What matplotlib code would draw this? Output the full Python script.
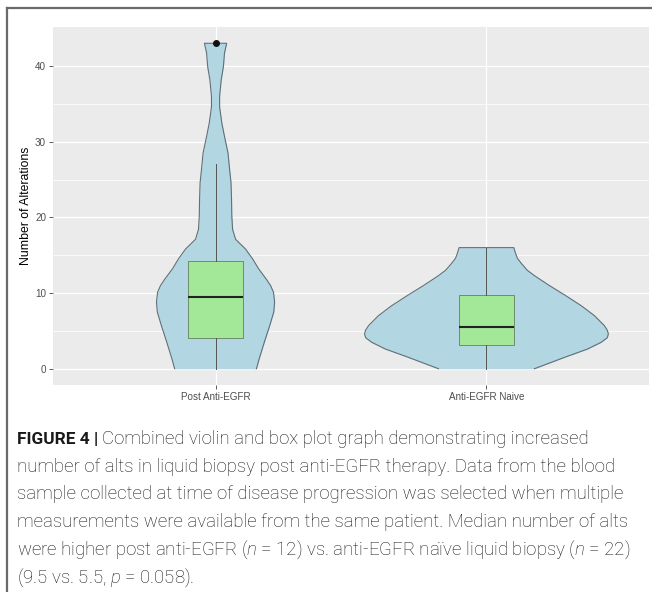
import numpy as np
import matplotlib
matplotlib.use("Agg")
import matplotlib.pyplot as plt
from matplotlib.lines import Line2D

groups = ["Post Anti-EGFR", "Anti-EGFR Naive"]

# violin outlines: height (number of alterations) and half-width (x units)
post_y = [0.0, 1.3, 3.5, 5.7, 7.5, 8.8, 10.1, 11.0, 11.8, 13.2, 14.5, 15.8,
          17.1, 18.4, 20.2, 22.4, 24.6, 26.3, 28.5, 30.7, 32.5, 34.6, 36.0,
          38.2, 39.9, 41.7, 43.0]
post_hw = [0.151, 0.161, 0.180, 0.200, 0.215, 0.218, 0.214, 0.203, 0.188,
           0.159, 0.137, 0.111, 0.074, 0.063, 0.060, 0.059, 0.057, 0.052,
           0.046, 0.033, 0.023, 0.015, 0.015, 0.021, 0.029, 0.033, 0.041]

naive_y = [0.0, 0.7, 1.5, 2.6, 3.5, 4.1, 4.6, 5.1, 5.7, 7.0, 8.3, 9.6, 11.0,
           12.3, 13.0, 13.9, 14.6, 15.3, 16.0]
naive_hw = [0.177, 0.229, 0.288, 0.373, 0.424, 0.446, 0.450, 0.446, 0.435,
            0.399, 0.351, 0.295, 0.232, 0.177, 0.151, 0.129, 0.114, 0.107,
            0.101]

# box plot summaries per group
box_q1 = [4.0, 3.2]
box_med = [9.5, 5.5]
box_q3 = [14.2, 9.7]
whisk_lo = [0, 0]
whisk_hi = [27, 16]
outliers = [[43], []]

violin_fill = "#b3d6e3"
violin_edge = "#5f7077"
box_fill = "#a3e898"

fig = plt.figure(figsize=(6.52, 5.92), dpi=100)
W, H = 652, 592
ax = fig.add_axes([53 / W, 1 - 385 / H, (649 - 53) / W, (385 - 27) / H])

ax.set_facecolor("#ebebeb")
for s in ax.spines.values():
    s.set_visible(False)

for i, (ys, hws) in enumerate([(post_y, post_hw), (naive_y, naive_hw)]):
    x0 = i + 1
    ys = np.array(ys)
    hws = np.array(hws)
    ax.fill_betweenx(ys, x0 - hws, x0 + hws, color=violin_fill, lw=0, zorder=2)
    xs = np.concatenate([x0 - hws, (x0 + hws)[::-1]])
    yy = np.concatenate([ys, ys[::-1]])
    ax.plot(xs, yy, color=violin_edge, lw=0.8, zorder=3)

stats = []
for i in range(len(groups)):
    stats.append(dict(med=box_med[i], q1=box_q1[i], q3=box_q3[i],
                      whislo=whisk_lo[i], whishi=whisk_hi[i],
                      fliers=outliers[i]))

ax.bxp(stats, positions=[1, 2], widths=0.2, patch_artist=True,
       showcaps=False,
       boxprops=dict(facecolor=box_fill, edgecolor="#6f8d6a", linewidth=0.7),
       medianprops=dict(color="#222222", linewidth=1.5),
       whiskerprops=dict(color="#555555", linewidth=0.7),
       flierprops=dict(marker="o", markerfacecolor="#111111",
                       markeredgecolor="#111111", markersize=4),
       zorder=4)

ax.set_xlim(0.4, 2.6)
ax.set_ylim(-2.15, 45.15)
ax.set_xticks([1, 2])
ax.set_xticklabels(groups)
ax.set_yticks([0, 10, 20, 30, 40])
ax.set_yticks([5, 15, 25, 35], minor=True)
ax.grid(which="major", color="white", lw=0.9)
ax.grid(which="minor", axis="y", color="white", lw=0.5)
ax.set_axisbelow(True)
ax.tick_params(which="major", length=3, width=0.6, color="#444444",
               labelcolor="#4d4d4d", labelsize=7.1, pad=2)
ax.tick_params(which="minor", length=0)
for lab in ax.get_xticklabels() + ax.get_yticklabels():
    lab.set_family("Liberation Sans")

ax.set_ylabel("Number of Alterations", fontsize=8.8, family="Liberation Sans",
              color="black")
ax.yaxis.set_label_coords(-0.035, 0.5)

# frame around the figure panel
fig.add_artist(Line2D([7 / W, 1], [1 - 8 / H, 1 - 8 / H], color="#6a6a6a", lw=1.6))
fig.add_artist(Line2D([7 / W, 7 / W], [0, 1 - 8 / H], color="#6a6a6a", lw=1.6))

# caption
plt.rcParams["mathtext.fontset"] = "custom"
plt.rcParams["mathtext.rm"] = "Roboto:light"
plt.rcParams["mathtext.it"] = "Roboto:italic:light"

cap_font = dict(family="Roboto", fontsize=13.4, color="#161616", va="baseline")
x_cap = 17 / W
base = 444
step = 27.7

t0 = fig.text(x_cap, 1 - base / H, "FIGURE 4 |", fontweight="bold",
              family="Roboto", fontsize=12.4, color="#1a1a1a", va="baseline")
fig.canvas.draw()
bb = t0.get_window_extent()
fig.text(bb.x1 / W + 4 / W, 1 - base / H,
         "Combined violin and box plot graph demonstrating increased",
         fontweight="light", **cap_font)

cap_lines = [
    "number of alts in liquid biopsy post anti-EGFR therapy. Data from the blood",
    "sample collected at time of disease progression was selected when multiple",
    "measurements were available from the same patient. Median number of alts",
    "were higher post anti-EGFR ($n$ = 12) vs. anti-EGFR naïve liquid biopsy ($n$ = 22)",
    "(9.5 vs. 5.5, $p$ = 0.058).",
]
for k, line in enumerate(cap_lines):
    fig.text(x_cap, 1 - (base + step * (k + 1)) / H, line, fontweight="light",
             **cap_font)

fig.savefig("out.png", dpi=100)
